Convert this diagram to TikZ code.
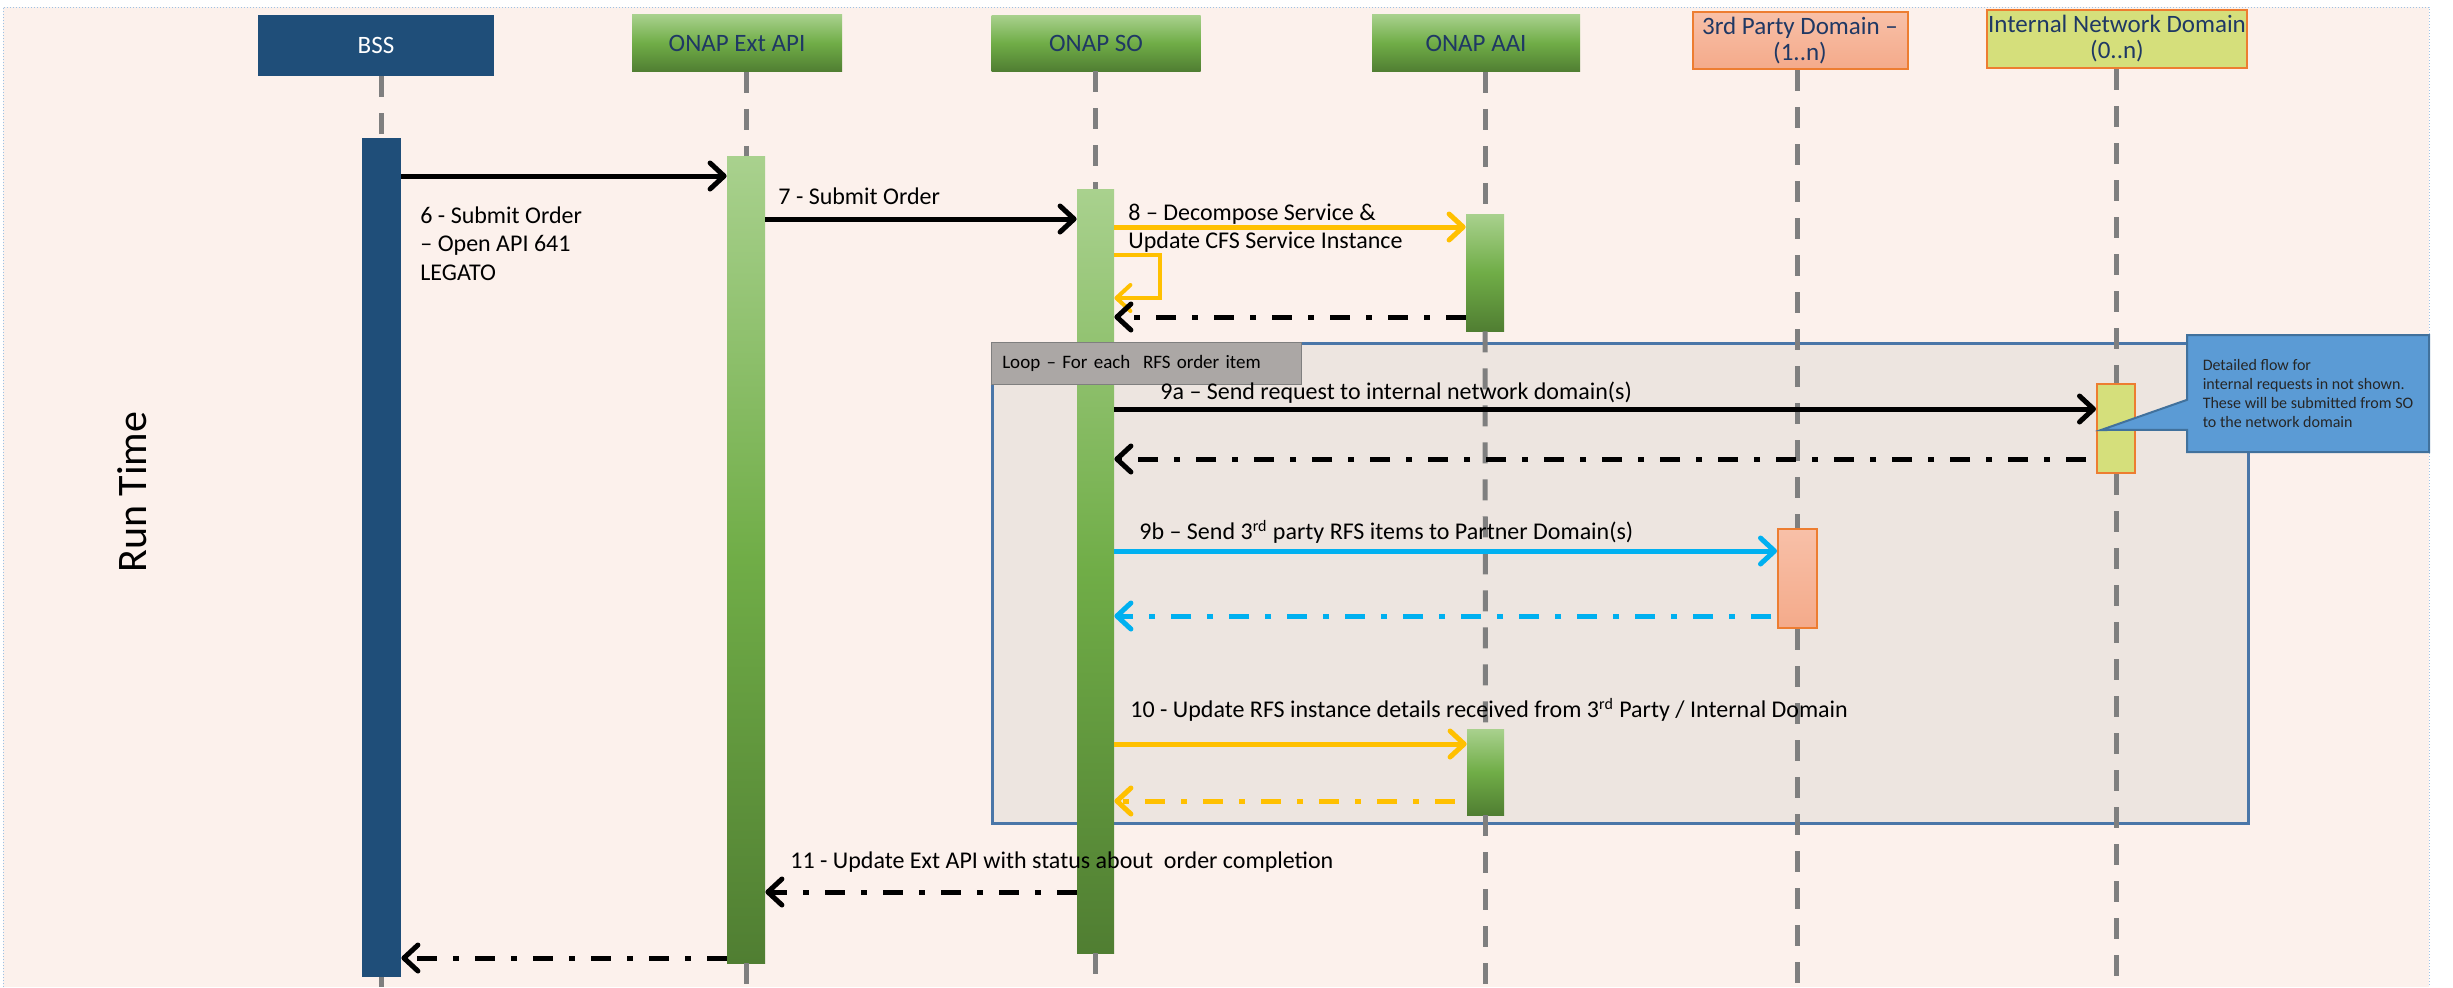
\documentclass[tikz,border=0pt]{standalone}
\usepackage{fontspec}
\setmainfont{Carlito}
\usetikzlibrary{arrows.meta,shapes.callouts}
\definecolor{bssblue}{HTML}{1F4E79}
\definecolor{greenlight}{HTML}{A9D18E}
\definecolor{greenmid}{HTML}{70AD47}
\definecolor{greendark}{HTML}{507E32}
\definecolor{navytext}{HTML}{1F3864}
\definecolor{salmon}{HTML}{F4AA8A}
\definecolor{salmonlight}{HTML}{F8C0A8}
\definecolor{domorange}{HTML}{ED7D31}
\definecolor{limefill}{HTML}{D5DF7B}
\definecolor{pagefill}{HTML}{FCF1EC}
\definecolor{pageedge}{HTML}{9DC3E6}
\definecolor{loopfill}{HTML}{EDE5E0}
\definecolor{loopedge}{HTML}{4A76A8}
\definecolor{taggray}{HTML}{ABA7A5}
\definecolor{lifegray}{HTML}{7F7F7F}
\definecolor{msgorange}{HTML}{FFC000}
\definecolor{msgblue}{HTML}{00B0F0}
\definecolor{noteblue}{HTML}{5B9BD5}
\definecolor{noteedge}{HTML}{41719C}

\begin{document}
\begin{tikzpicture}[x=0.5pt, y=-0.5pt,
	header/.style={minimum width=105pt, minimum height=28.5pt, inner sep=0pt, font=\fontsize{12.5}{13}\selectfont, text=navytext},
	greenbox/.style={top color=greenlight, bottom color=greendark, middle color=greenmid},
	bar/.style={inner sep=0pt, minimum width=19pt},
	lifeline/.style={lifegray, line width=2.5pt, dash pattern=on 10.5pt off 8pt},
	msg/.style={line width=2.5pt, -{Straight Barb[length=7pt,width=13pt,round]}},
	reply/.style={msg, dash pattern=on 10pt off 8pt on 3pt off 8pt},
	lbl/.style={anchor=west, inner sep=0pt, align=left, font=\fontsize{12}{14.3}\selectfont}]
				\useasboundingbox (0,0) rectangle (2453,987);
				\fill[pagefill] (3,7) rectangle (2429,987);
				\draw[pageedge, densely dotted, line width=0.5pt] (3,987) -- (3,7) -- (2429,7) -- (2429,987);
				\node[rotate=90, font=\fontsize{21}{24}\selectfont] (runtime) at (132,492) {Run Time};
				% loop frame
				\node[draw=loopedge, fill=loopfill, line width=1.5pt, minimum width=628pt, minimum height=240pt, inner sep=0pt] (loop) at (1620,583) {};
				% headers
				\node[header, fill=bssblue, text=white, minimum width=118pt, minimum height=30.5pt] (bss) at (376,45.5) {BSS};
				\node[header, greenbox] (extapi) at (737,43) {ONAP Ext API};
				\node[header, greenbox, minimum width=104.5pt, minimum height=28pt] (so) at (1096,43) {ONAP SO};
				\node[header, greenbox, minimum width=104pt] (aai) at (1476,43) {ONAP AAI};
				\node[header, top color=salmonlight, bottom color=salmon, draw=domorange, line width=1pt, minimum width=107.5pt, align=center] (third) at (1800,40.5) {3rd Party Domain –\\(1..n)};
				\node[header, fill=limefill, draw=domorange, line width=1pt, minimum width=130pt, minimum height=29pt, align=center] (internal) at (2117,39) {Internal Network Domain\\(0..n)};
				% activation bars
				\node[bar, fill=bssblue, minimum width=19.5pt, minimum height=419.5pt] (bssbar) at (381.5,557.5) {};
				\node[bar, greenbox, minimum height=403.5pt] (extapibar) at (746,559.5) {};
				\node[bar, greenbox, minimum width=18.5pt, minimum height=382pt] (sobar) at (1095.5,571) {};
				\node[bar, greenbox, minimum height=58.5pt] (aaibara) at (1485,272.5) {};
				\node[bar, greenbox, minimum width=18.5pt, minimum height=43pt] (aaibarb) at (1485.5,772) {};
				\node[bar, top color=salmonlight, bottom color=salmon, draw=domorange, line width=1pt, minimum width=19.5pt, minimum height=49.5pt] (thirdbar) at (1797.5,578.5) {};
				\node[bar, fill=limefill, draw=domorange, line width=1pt, minimum height=44.5pt] (internalbar) at (2116,428.5) {};
				% lifelines
				\draw[lifeline] (bss.south -| bssbar) -- (bssbar.north);
				\draw[lifeline] (bssbar.south) -- (bssbar |- 0,987);
				\draw[lifeline] (extapi.south -| extapibar) -- (extapibar.north);
				\draw[lifeline] (extapibar.south) -- (extapibar |- 0,987);
				\draw[lifeline] (so.south -| sobar) -- (sobar.north);
				\draw[lifeline] (sobar.south) -- (sobar |- 0,987);
				\draw[lifeline] (aai.south -| aaibara) -- (aaibara.north);
				\draw[lifeline] (aaibara.south) -- (aaibarb.north);
				\draw[lifeline] (aaibarb.south) -- (aaibarb |- 0,987);
				\draw[lifeline] (third.south -| thirdbar) -- (thirdbar.north);
				\draw[lifeline] (thirdbar.south) -- (thirdbar |- 0,987);
				\draw[lifeline] (internal.south -| internalbar) -- (internalbar.north);
				\draw[lifeline] (internalbar.south) -- (internalbar |- 0,987);
				\node[draw=lifegray, fill=taggray, line width=0.75pt, anchor=north west, minimum height=21pt, text width=144pt, inner xsep=5.5pt, inner ysep=0pt, align=left, font=\fontsize{9.5}{11}\selectfont] (looptag) at (loop.north west) {Loop – For each\ \ RFS order item};
				% messages
				\draw[msg] (bssbar.east |- 0,176) -- (extapibar.west |- 0,176);
				\draw[msg] (extapibar.east |- 0,219) -- (sobar.west |- 0,219);
				\draw[msg, msgorange] (sobar.east |- 0,227) -- (aaibara.west |- 0,227);
				\draw[msg, msgorange, line width=2pt] (sobar.east |- 0,255) -- ++(23pt,0) |- (sobar.east |- 0,298);
				\draw[reply] (aaibara.west |- 0,317) -- (sobar.east |- 0,317);
				\draw[msg] (sobar.east |- 0,409) -- (internalbar.west |- 0,409);
				\draw[reply, shorten <=5pt] (internalbar.west |- 0,459) -- (sobar.east |- 0,459);
				\draw[msg, msgblue] (sobar.east |- 0,551) -- (thirdbar.west |- 0,551);
				\draw[reply, msgblue, shorten <=3pt] (thirdbar.west |- 0,616) -- (sobar.east |- 0,616);
				\draw[msg, msgorange] (sobar.east |- 0,744) -- (aaibarb.west |- 0,744);
				\draw[reply, msgorange, shorten <=6pt] (aaibarb.west |- 0,801) -- (sobar.east |- 0,801);
				\draw[reply] (sobar.west |- 0,892) -- (extapibar.east |- 0,892);
				\draw[reply] (extapibar.west |- 0,958) -- (bssbar.east |- 0,958);
				% labels
				\node[lbl] (lsix) at (420,243.5) {6 - Submit Order\\– Open API 641\\LEGATO};
				\node[lbl] (lseven) at (778,196) {7 - Submit Order};
				\node[lbl] (leight) at (1128,228) {8 – Decompose Service \&\\Update CFS Service Instance};
				\node[lbl] (lninea) at (1160,393) {9a – Send request to internal network domain(s)};
				\node[lbl] (lnineb) at (1139,532) {9b – Send 3\textsuperscript{rd} party RFS items to Partner Domain(s)};
				\node[lbl] (lten) at (1130,710) {10 - Update RFS instance details received from 3\textsuperscript{rd} Party / Internal Domain};
				\node[lbl] (leleven) at (790,862) {11 - Update Ext API with status about\ \ order completion};
				% note
				\node[rectangle callout, fill=noteblue, draw=noteedge, line width=1pt, minimum width=121pt, minimum height=58.5pt, callout absolute pointer={([xshift=2.5pt,yshift=-0.75pt]internalbar.west)}, callout pointer width=15pt, align=left, font=\fontsize{8}{9.5}\selectfont, text=black!85] (note) at (2308,393.5) {Detailed flow for\\internal requests in not shown.\\These will be submitted from SO\\to the network domain};
			\end{tikzpicture}
\end{document}
